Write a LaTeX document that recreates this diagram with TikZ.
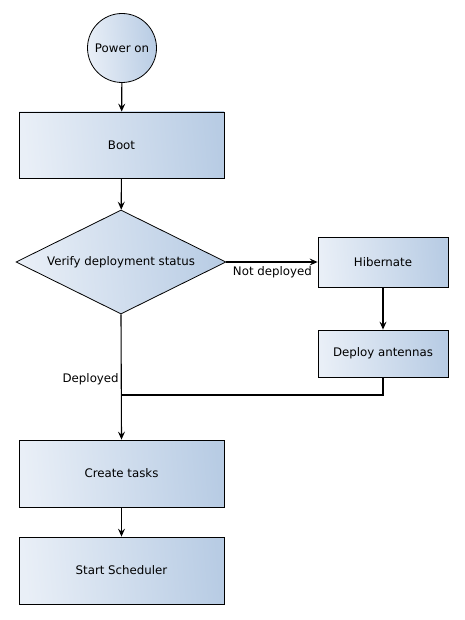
\documentclass[tikz,border=0pt]{standalone}
\usepackage{fontspec}
\setmainfont{DejaVu Sans}
\usetikzlibrary{shapes.geometric,arrows.meta}
\begin{document}
\begin{tikzpicture}[x=1pt,y=-1pt,
  every node/.style={font=\fontsize{11.8}{14}\selectfont},
  blk/.style={draw=black,line width=0.8pt,rectangle,inner sep=0pt,
    left color={rgb,255:red,233;green,239;blue,247},right color={rgb,255:red,184;green,204;blue,228},shading angle=95},
  conn/.style={draw=black,line width=1.1pt,-{Stealth[length=8pt,width=7pt,inset=3pt]}},
  line/.style={draw=black,line width=1.1pt}]
\useasboundingbox (0,0) rectangle (465,620);
\node[blk,circle,minimum size=69pt] (power) at (122,48) {Power on};
\node[blk,minimum width=205pt,minimum height=66pt] (boot) at (121.5,145) {Boot};
\node[blk,diamond,minimum width=210pt,minimum height=104pt,aspect=2] (verify) at (121,262) {};
\node at (121,262) {Verify deployment status};
\node[blk,minimum width=130pt,minimum height=50pt] (hib) at (383,262) {Hibernate};
\node[blk,minimum width=130pt,minimum height=47pt] (deploy) at (383,353.5) {Deploy antennas};
\node[blk,minimum width=205pt,minimum height=67pt] (create) at (121.5,473.5) {Create tasks};
\node[blk,minimum width=205pt,minimum height=67pt] (start) at (121.5,570.5) {Start Scheduler};
\coordinate (j1) at (383,395);
\coordinate (j2) at (121,395);
\path[conn] (power) -- (boot);
\path[conn] (boot) -- (verify);
\path[conn] (verify.east) -- node[pos=0,anchor=north west,xshift=5pt,yshift=-3pt,inner sep=1pt]{Not deployed} (hib.west);
\path[conn] (hib) -- (deploy);
\path[line] (deploy.south) -- (j1) -- (j2);
\path[conn] (verify.south) -- node[pos=0.5,anchor=east,xshift=-1pt,yshift=-2pt,inner sep=1pt]{Deployed} (create.north);
\path[conn] (create) -- (start);
\end{tikzpicture}
\end{document}
